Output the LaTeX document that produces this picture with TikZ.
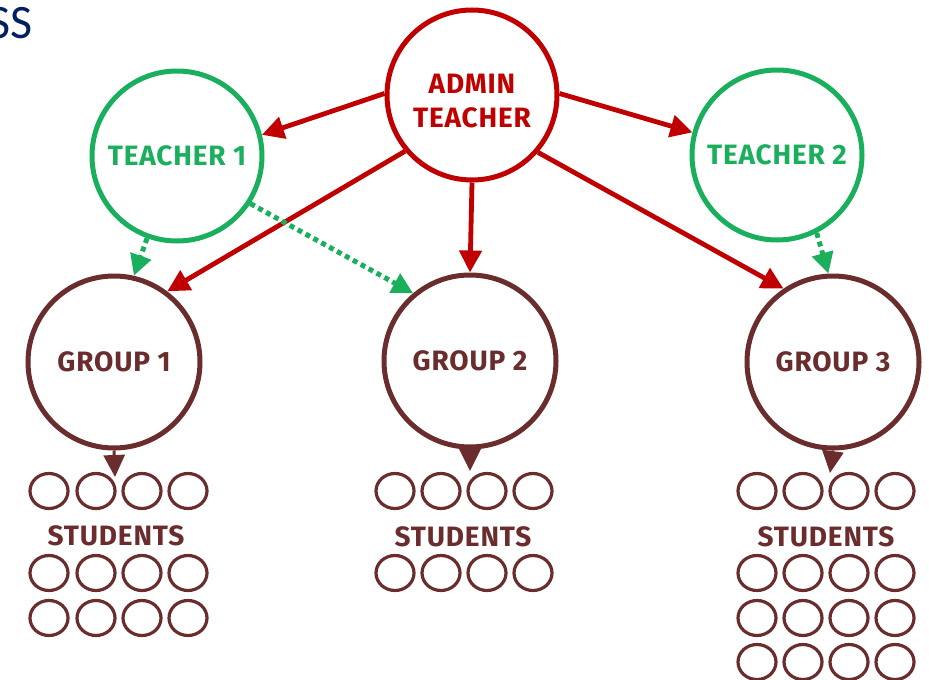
\documentclass[tikz,border=0pt]{standalone}
\usepackage{fontspec}
\setmainfont{Fira Sans}
\newfontfamily\titlefont{Carlito}
\usetikzlibrary{arrows.meta,shapes.geometric}
\definecolor{adminred}{HTML}{C00000}
\definecolor{tgreen}{HTML}{1AAF5D}
\definecolor{gbrown}{HTML}{6A2C2C}
\definecolor{navy}{HTML}{002060}
\begin{document}
\begin{tikzpicture}[x=1pt,y=-1pt,
  bigcirc/.style={circle, draw, line width=5pt, inner sep=0pt, align=center,
    font=\fontsize{28}{34}\selectfont\bfseries\addfontfeatures{LetterSpace=3}},
  admin/.style={bigcirc, draw=adminred, text=adminred, minimum size=170pt},
  teacher/.style={bigcirc, draw=tgreen, text=tgreen, minimum size=170pt},
  group/.style={bigcirc, draw=gbrown, text=gbrown, minimum size=172pt},
  stud/.style={ellipse, draw=gbrown, line width=3.2pt, minimum width=38pt, minimum height=35pt, inner sep=0pt},
  studlabel/.style={text=gbrown, inner sep=0pt, font=\fontsize{28}{30}\selectfont\bfseries\addfontfeatures{LetterSpace=3}},
  redarrow/.style={draw=adminred, line width=4.8pt, -{Triangle[length=22pt,width=22pt]}},
  greenarrow/.style={draw=tgreen, line width=5pt, dash pattern=on 5pt off 4pt, -{Triangle[length=21pt,width=21pt]}},
  brownarrow/.style={draw=gbrown, line width=3pt, -{Triangle[length=22pt,width=21pt]}},
]
\useasboundingbox (0,0) rectangle (929,680);

\node[anchor=base east, text=navy, inner sep=0pt, font=\titlefont\fontsize{48}{50}\selectfont] (title) at (33,38) {SS};

\node[admin] (admin) at (472,95) {\raisebox{-9pt}[\height][\depth]{\begin{tabular}{@{}c@{}}ADMIN\\TEACHER\end{tabular}}};
\node[teacher] (t1) at (177,156) {TEACHER 1};
\node[teacher] (t2) at (777,155) {TEACHER 2};
\node[group] (g1) at (114,362) {GROUP 1};
\node[group] (g2) at (470,361) {GROUP 2};
\node[group] (g3) at (833,362) {GROUP 3};

% red arrows
\draw[redarrow] (admin.179) -- (t1.14);
\draw[redarrow] (admin.1) -- (t2.165);
\draw[redarrow] (admin.220) -- (g1.53);
\draw[redarrow] (admin.270) -- (g2.90);
\draw[redarrow] (admin.319) -- (g3.124);

% green dotted arrows
\draw[greenarrow] (t1.250) -- (g1.77);
\draw[greenarrow] (t1.327) -- (g2.130);
\draw[greenarrow] (t2.297) -- (g3.93);

% students group 1
\foreach \x [count=\c] in {49,96,142,188}{
  \foreach \y [count=\r] in {491,573,618}{
    \node[stud] (a\r\c) at (\x,\y) {};
  }
}
\node[studlabel] (l1) at (116,536) {STUDENTS};
% students group 2
\foreach \x [count=\c] in {395,441,487,533}{
  \foreach \y [count=\r] in {491,573}{
    \node[stud] (b\r\c) at (\x,\y) {};
  }
}
\node[studlabel] (l2) at (463,537) {STUDENTS};
% students group 3
\foreach \x [count=\c] in {757,803,849,895}{
  \foreach \y [count=\r] in {491,573,618,662}{
    \node[stud] (c\r\c) at (\x,\y) {};
  }
}
\node[studlabel] (l3) at (826,537) {STUDENTS};

% group to students arrows
\coordinate (g1tip) at (115,477);
\coordinate (g2tip) at (470,471);
\coordinate (g3tip) at (830,473);
\draw[brownarrow] (g1.south) -- (g1tip);
\draw[brownarrow] (g2.south) -- (g2tip);
\draw[brownarrow] (g3.south) -- (g3tip);
\end{tikzpicture}
\end{document}
